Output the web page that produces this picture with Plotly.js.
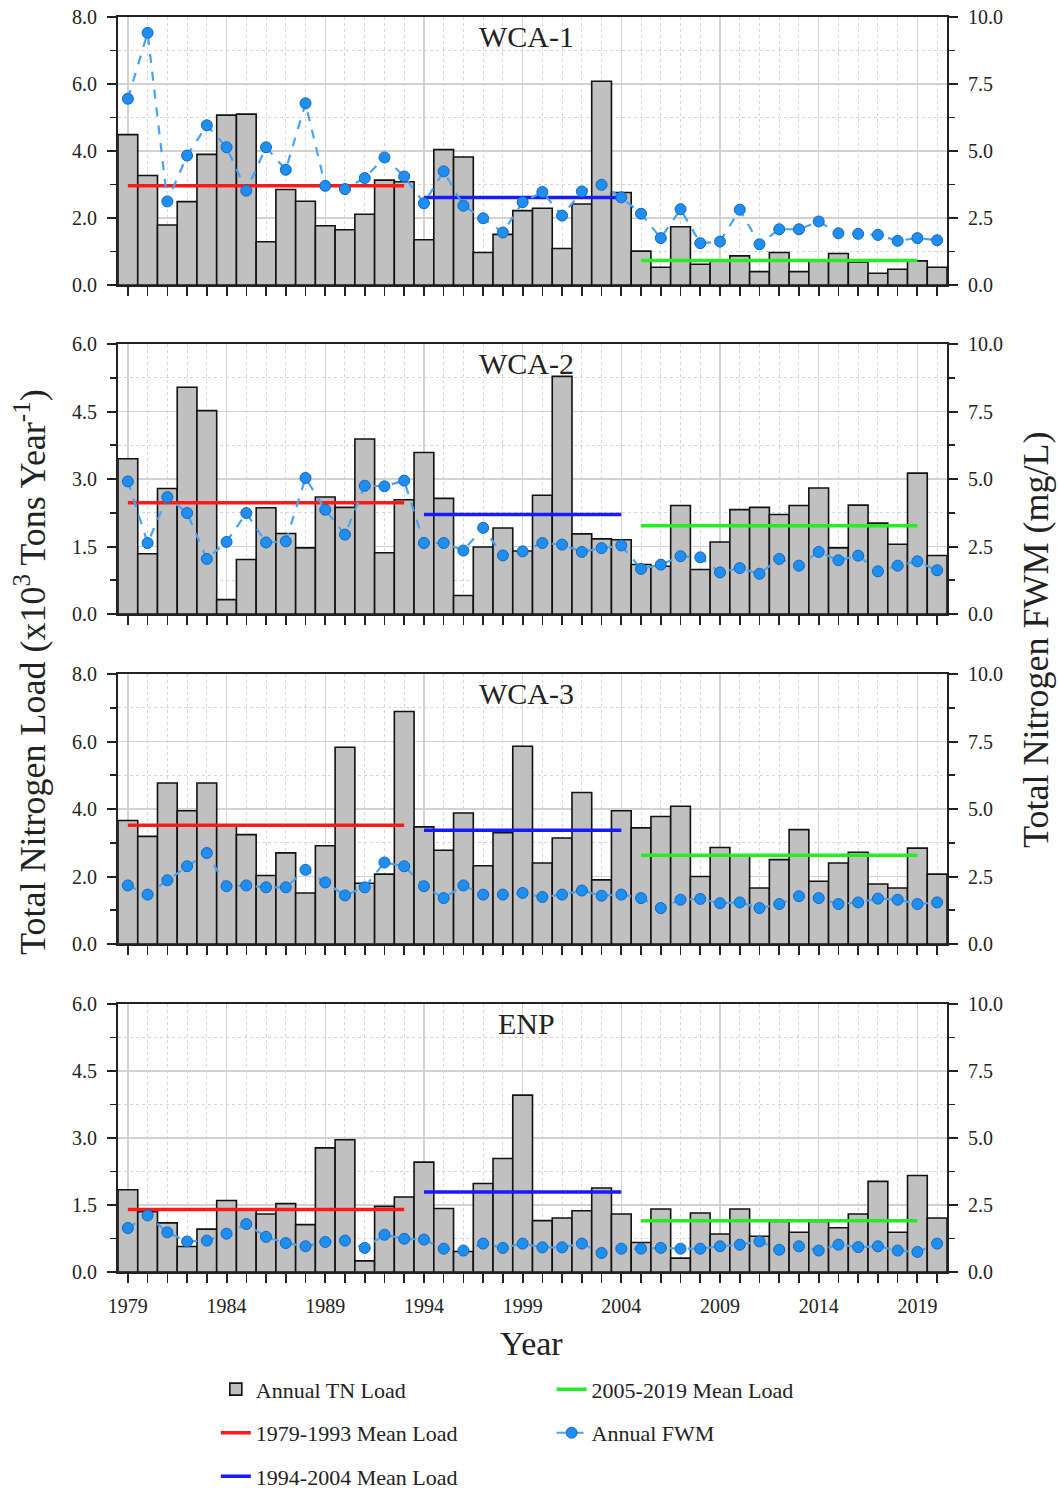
<!DOCTYPE html>
<html>
<head>
<meta charset="utf-8">
<script src="https://cdn.plot.ly/plotly-3.0.1.min.js"></script>
<style>html,body{margin:0;padding:0;background:#fff;}#chart{width:1058px;height:1493px;}</style>
</head>
<body>
<div id="chart"></div>
<script>
const years = [1979,1980,1981,1982,1983,1984,1985,1986,1987,1988,1989,1990,1991,1992,1993,1994,1995,1996,1997,1998,1999,2000,2001,2002,2003,2004,2005,2006,2007,2008,2009,2010,2011,2012,2013,2014,2015,2016,2017,2018,2019,2020];
const panelNames = ["WCA-1","WCA-2","WCA-3","ENP"];
const xTickLabels = ["1979","1984","1989","1994","1999","2004","2009","2014","2019"];
const periodLabels = ["1979-1993 Mean Load","1994-2004 Mean Load","2005-2019 Mean Load"];
const periodStart = [1979,1994,2005];
const periodEnd = [1993,2004,2019];

const loadWCA1 = [4.49,3.27,1.79,2.49,3.90,5.07,5.10,1.29,2.85,2.50,1.77,1.65,2.11,3.13,3.08,1.35,4.04,3.82,0.97,1.51,2.22,2.29,1.09,2.42,6.08,2.76,1.01,0.53,1.74,0.62,0.75,0.87,0.40,0.97,0.40,0.72,0.94,0.68,0.35,0.47,0.72,0.53];
const fwmWCA1 = [6.95,9.41,3.12,4.83,5.96,5.14,3.52,5.14,4.30,6.78,3.70,3.58,3.99,4.76,4.05,3.05,4.24,2.96,2.49,1.96,3.09,3.47,2.59,3.49,3.74,3.27,2.66,1.75,2.83,1.56,1.62,2.81,1.52,2.08,2.08,2.37,1.93,1.91,1.87,1.65,1.75,1.67];
const meanWCA1 = [2.96,2.61,0.73];

const loadWCA2 = [3.45,1.34,2.79,5.04,4.52,0.32,1.21,2.36,1.79,1.47,2.60,2.37,3.89,1.36,2.54,3.59,2.57,0.41,1.49,1.91,1.40,2.64,5.28,1.78,1.67,1.65,1.10,1.06,2.41,0.99,1.60,2.32,2.37,2.21,2.41,2.80,1.47,2.42,2.02,1.55,3.13,1.30];
const fwmWCA2 = [4.91,2.63,4.33,3.74,2.04,2.67,3.74,2.65,2.69,5.04,3.86,2.94,4.75,4.73,4.94,2.63,2.63,2.35,3.19,2.17,2.32,2.63,2.57,2.30,2.44,2.54,1.67,1.83,2.14,2.10,1.54,1.70,1.49,2.04,1.79,2.30,1.99,2.16,1.58,1.79,1.95,1.62];
const meanWCA2 = [2.47,2.21,1.96];

const loadWCA3 = [3.66,3.19,4.77,3.95,4.77,3.50,3.24,2.03,2.70,1.51,2.91,5.83,1.80,2.07,6.89,3.47,2.78,3.88,2.32,3.30,5.86,2.40,3.14,4.49,1.90,3.95,3.44,3.78,4.08,2.00,2.86,2.60,1.66,2.50,3.39,1.86,2.40,2.72,1.78,1.66,2.84,2.07];
const fwmWCA3 = [2.17,1.83,2.36,2.88,3.37,2.14,2.17,2.10,2.10,2.75,2.28,1.80,2.10,3.02,2.88,2.14,1.70,2.17,1.83,1.83,1.89,1.74,1.83,1.98,1.79,1.83,1.70,1.33,1.64,1.67,1.51,1.54,1.33,1.48,1.77,1.70,1.48,1.54,1.68,1.64,1.48,1.54];
const meanWCA3 = [3.52,3.37,2.63];

const loadENP = [1.84,1.35,1.10,0.57,0.96,1.60,1.39,1.30,1.53,1.06,2.78,2.96,0.25,1.47,1.68,2.46,1.42,0.46,1.98,2.54,3.96,1.15,1.21,1.37,1.88,1.30,0.66,1.41,0.31,1.32,0.85,1.41,0.80,1.13,0.89,1.13,0.99,1.30,2.03,0.89,2.16,1.21];
const fwmENP = [1.64,2.11,1.48,1.14,1.17,1.43,1.79,1.31,1.08,0.96,1.12,1.17,0.90,1.39,1.24,1.21,0.87,0.80,1.06,0.90,1.06,0.92,0.92,1.06,0.71,0.87,0.87,0.90,0.87,0.87,0.96,1.02,1.14,0.83,0.96,0.80,1.02,0.93,0.96,0.80,0.75,1.06];
const meanENP = [1.40,1.79,1.15];

const loadMax = [8,6,8,6];
const loadDtick = [2,1.5,2,1.5];
const fwmMax = 10;

const loads = [loadWCA1,loadWCA2,loadWCA3,loadENP];
const fwms = [fwmWCA1,fwmWCA2,fwmWCA3,fwmENP];
const means = [meanWCA1,meanWCA2,meanWCA3,meanENP];

const FONT = "Liberation Serif, Times New Roman, serif";
const INK = "#222222";
const lineColors = ["#ff1a1a","#1a1aff","#22ee22"];
const H = 1493;
const pxDomains = [[17,285],[344,614],[674,944],[1004,1272]];

const traces = [];
const layout = {
  width: 1058, height: 1493,
  margin: {l:118, r:111, t:0, b:0, autoexpand: false},
  paper_bgcolor: "#ffffff", plot_bgcolor: "#ffffff",
  font: {family: FONT, color: INK, size: 20},
  bargap: 0,
  barmode: "overlay",
  showlegend: true,
  annotations: [],
  legend: {x:0.118, y:0.0835, xanchor:"left", yanchor:"top", orientation:"v", traceorder:"grouped", tracegroupgap:12, font:{family:FONT,size:22,color:INK}, bgcolor:"rgba(0,0,0,0)"},
  legend2: {x:0.523, y:0.0835, xanchor:"left", yanchor:"top", orientation:"v", traceorder:"grouped", tracegroupgap:12, font:{family:FONT,size:22,color:INK}, bgcolor:"rgba(0,0,0,0)"}
};

for (let p = 0; p < 4; p++) {
  const xa = p === 0 ? "x" : "x" + (p+1);
  const yaN = 2*p+1, ybN = 2*p+2;
  const ya = yaN === 1 ? "y" : "y" + yaN;
  const yb = "y" + ybN;
  const dom = [1 - pxDomains[p][1]/H, 1 - pxDomains[p][0]/H];
  const first = p === 0;

  traces.push({
    type:"bar", x: years, y: loads[p], xaxis: xa, yaxis: ya, width: 1,
    name: "Annual TN Load", legend: "legend", legendgroup: "g1", legendrank: 1,
    showlegend: first,
    marker: {color:"#c0c0c0", line:{color:"#111111", width:1.6}},
    hoverinfo: "x+y"
  });
  for (let k = 0; k < 3; k++) {
    traces.push({
      type:"scatter", mode:"lines", x:[periodStart[k], periodEnd[k]], y:[means[p][k], means[p][k]],
      xaxis: xa, yaxis: ya, name: periodLabels[k],
      legend: k < 2 ? "legend" : "legend2", legendgroup: "m"+k, legendrank: k < 2 ? k+2 : 1,
      showlegend: first,
      line: {color: lineColors[k], width: 3.5}
    });
  }
  traces.push({
    type:"scatter", mode:"lines+markers", x: years, y: fwms[p], xaxis: xa, yaxis: yb,
    name: "Annual FWM", legend: "legend2", legendgroup: "fwm", legendrank: 2,
    showlegend: first,
    line: {color:"#47a3f3", width:2.2, dash:"dash"},
    marker: {symbol:"circle", size:11, color:"#1e8ff0", line:{color:"#1565c0", width:1}}
  });

  layout["xaxis" + (p === 0 ? "" : p+1)] = {
    domain: [0,1], anchor: ya, range: [1978.5, 2020.5],
    tickmode: "array", tickvals: xTickLabels.map(Number), ticktext: xTickLabels,
    ticks: "outside", ticklen: 9, tickwidth: 2, tickcolor: INK, ticklabelstandoff: 6,
    showticklabels: p === 3, tickfont: {family: FONT, size: 20, color: INK},
    showgrid: true, gridcolor: "#d2d2d2", gridwidth: 1.5,
    showline: true, linecolor: INK, linewidth: 2, mirror: true,
    zeroline: false, automargin: false,
    minor: {tick0: 1979, dtick: 1, ticks: "outside", ticklen: 9, tickwidth: 1.6, tickcolor: INK,
            showgrid: true, gridcolor: "#d6d6d6", griddash: "dot", gridwidth: 1}
  };
  layout["yaxis" + (yaN === 1 ? "" : yaN)] = {
    domain: dom, anchor: xa, range: [0, loadMax[p]],
    tickmode: "linear", tick0: 0, dtick: loadDtick[p], tickformat: ".1f",
    ticks: "outside", ticklen: 9, tickwidth: 2, tickcolor: INK, ticklabelstandoff: 6,
    tickfont: {family: FONT, size: 20, color: INK},
    showgrid: true, gridcolor: "#d2d2d2", gridwidth: 1.5,
    showline: true, linecolor: INK, linewidth: 2, zeroline: false, automargin: false,
    minor: {dtick: loadDtick[p]/2, ticks: "outside", ticklen: 6, tickwidth: 1.6, tickcolor: INK,
            showgrid: true, gridcolor: "#d6d6d6", griddash: "dot", gridwidth: 1}
  };
  layout["yaxis" + ybN] = {
    domain: dom, anchor: xa, overlaying: ya, side: "right", range: [0, fwmMax],
    tickmode: "linear", tick0: 0, dtick: 2.5, tickformat: ".1f",
    ticks: "outside", ticklen: 9, tickwidth: 2, tickcolor: INK, ticklabelstandoff: 6,
    tickfont: {family: FONT, size: 20, color: INK},
    showgrid: false, showline: true, linecolor: INK, linewidth: 2, zeroline: false, automargin: false,
    minor: {dtick: 1.25, ticks: "outside", ticklen: 6, tickwidth: 1.6, tickcolor: INK, showgrid: false}
  };
  layout.annotations.push({
    text: panelNames[p], xref: "x" + (p === 0 ? "" : p+1) + " domain", yref: ya + " domain",
    x: 0.493, y: 0.995, xanchor: "center", yanchor: "top", showarrow: false,
    font: {family: FONT, size: 30, color: INK}
  });
}

layout.annotations.push({
  text: "Total Nitrogen Load (x10<sup>3</sup> Tons Year<sup>-1</sup>)",
  xref: "paper", yref: "paper", x: (30-118)/829, y: 1 - 672/H,
  xanchor: "center", yanchor: "middle", textangle: -90, showarrow: false,
  font: {family: FONT, size: 36, color: INK}
});
layout.annotations.push({
  text: "Total Nitrogen FWM (mg/L)",
  xref: "paper", yref: "paper", x: (1036-118)/829, y: 1 - 640/H,
  xanchor: "center", yanchor: "middle", textangle: -90, showarrow: false,
  font: {family: FONT, size: 36, color: INK}
});
layout.annotations.push({
  text: "Year", xref: "paper", yref: "paper", x: (531-118)/829, y: 1 - 1343/H,
  xanchor: "center", yanchor: "middle", showarrow: false,
  font: {family: FONT, size: 34, color: INK}
});

Plotly.newPlot("chart", traces, layout, {displayModeBar: false, staticPlot: true});
</script>
</body>
</html>
